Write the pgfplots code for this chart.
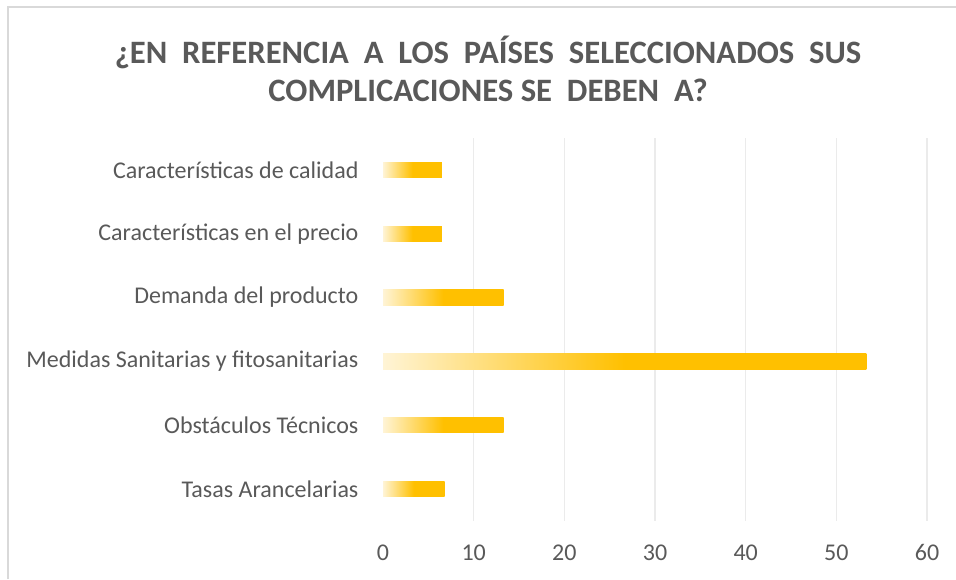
\documentclass[border=0pt]{standalone}
\usepackage{fontspec}
\setmainfont{Carlito}
\usepackage{pgfplots}
\usepackage{pgfplotstable}
\pgfplotsset{compat=1.18}
\definecolor{gold}{HTML}{FFC000}
\definecolor{paleGold}{HTML}{FFF4D6}
\definecolor{txt}{HTML}{595959}
\definecolor{gridc}{HTML}{EBEBEB}
\definecolor{framec}{HTML}{D9D9D9}

% y position (bottom to top) and share
\pgfplotstableread{
y val
0 6.8
1 13.3
2 53.3
3 13.3
4 6.5
5 6.5
}\complic

\begin{document}
\begin{tikzpicture}
\path[use as bounding box] (0,0) rectangle (717pt,434.25pt);
\draw[framec, line width=1.5pt] (6pt,0) -- (6pt,429pt) -- (717pt,429pt);
\node[font=\fontsize{24.5}{28.5}\selectfont\bfseries, text=txt, align=center]
  at (366pt,382.5pt)
  {¿EN\ \ REFERENCIA\ \ A\ \ LOS\ \ PAÍSES\ \ SELECCIONADOS\ \ SUS\\COMPLICACIONES SE\ \ DEBEN\ \ A?};
\begin{axis}[
  at={(287.25pt,43.5pt)}, anchor=south west,
  scale only axis, width=408pt, height=287.25pt,
  xmin=0, xmax=60, ymin=-0.5, ymax=5.5,
  xbar, bar width=11.5pt, bar shift=0pt,
  axis line style={draw=none},
  tick style={draw=none},
  xtick={10,20,...,60},
  extra x ticks={0},
  extra x tick style={grid=none},
  xmajorgrids, grid style={gridc, line width=1.2pt},
  ytick={0,...,5},
  yticklabels={Tasas Arancelarias, Obstáculos Técnicos, Medidas Sanitarias y fitosanitarias,
    Demanda del producto, Características en el precio, Características de calidad},
  ticklabel style={font=\fontsize{18}{21}\selectfont, text=txt, inner sep=0pt},
  yticklabel shift=14pt,
  xticklabel shift=17.5pt,
  /pgf/number format/assume math mode=true,
]
% one plot per bar so each bar gets its own gradient
\pgfplotsinvokeforeach{0,...,5}{
  \addplot[draw=none, left color=paleGold, right color=gold, middle color=gold,
    y filter/.expression={abs(y-#1)<0.1 ? y : nan}]
    table[x=val, y=y] {\complic};
}
\end{axis}
\end{tikzpicture}
\end{document}
